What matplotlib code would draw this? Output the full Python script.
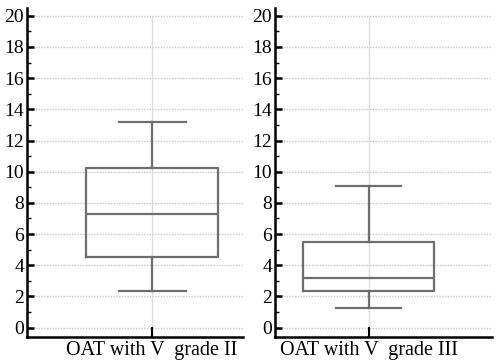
import matplotlib
matplotlib.use("Agg")
import matplotlib.pyplot as plt
from matplotlib.ticker import MultipleLocator

# values
labels = ["OAT with V  grade II", "OAT with V  grade III"]
whislo = [2.37, 1.28]
q1 = [4.55, 2.37]
med = [7.3, 3.2]
q3 = [10.26, 5.5]
whishi = [13.2, 9.1]

plt.rcParams['font.family'] = ['Liberation Serif', 'DejaVu Serif']


def draw_panel(ax, i, xlo, xhi, width, capw):
    stats = [{"label": labels[i], "whislo": whislo[i], "q1": q1[i], "med": med[i],
              "q3": q3[i], "whishi": whishi[i], "fliers": []}]
    gray = "#6e6e6e"
    ax.hlines(range(0, 21, 2), xlo, xhi, colors="#c8c8c8", linestyles=(0, (1, 1)),
              linewidth=1, zorder=0)
    ax.vlines(1, -0.6, 20, colors="#dedede", linewidth=1, zorder=0)
    ax.bxp(stats, positions=[1], widths=width, capwidths=capw, showfliers=False,
           boxprops=dict(color=gray, linewidth=1.6),
           medianprops=dict(color=gray, linewidth=1.6),
           whiskerprops=dict(color=gray, linewidth=1.6),
           capprops=dict(color=gray, linewidth=1.6))
    ax.set_xlim(xlo, xhi)
    ax.set_ylim(-0.6, 20.5)
    ax.yaxis.set_major_locator(MultipleLocator(2))
    ax.yaxis.set_minor_locator(MultipleLocator(1))
    for s in ["top", "right"]:
        ax.spines[s].set_visible(False)
    for s in ["left", "bottom"]:
        ax.spines[s].set_linewidth(1.8)
    ax.tick_params(axis="y", which="major", direction="in", length=5, width=1.8,
                   labelsize=14, pad=2)
    ax.tick_params(axis="y", which="minor", direction="in", length=3, width=1)
    ax.tick_params(axis="x", which="major", direction="in", length=7, width=1.5,
                   labelsize=14.5, pad=3)


fig = plt.figure(figsize=(5.01, 3.62), dpi=100)
ax1 = fig.add_axes([27 / 501, 1 - 337 / 362, 216 / 501, 329 / 362])
ax2 = fig.add_axes([275 / 501, 1 - 337 / 362, 217 / 501, 329 / 362])

draw_panel(ax1, 0, 0.421, 1.421, 0.611, 0.31)
draw_panel(ax2, 1, 0.569, 1.569, 0.604, 0.30)

fig.savefig("out.png", dpi=100)
